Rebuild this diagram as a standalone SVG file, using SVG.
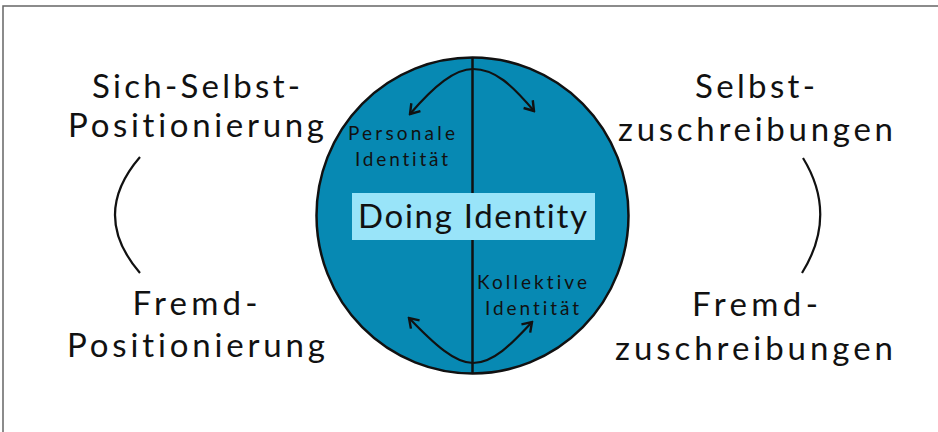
<svg xmlns="http://www.w3.org/2000/svg" width="938" height="432" viewBox="0 0 938 432">
  <style>
    text { font-variant-ligatures: none; font-feature-settings: "liga" 0, "clig" 0; }
    .big { font-family: Lato, "Open Sans", "DejaVu Sans", sans-serif; font-size: 33px; fill: #111; text-anchor: middle; }
    .small { font-family: Lato, "Open Sans", "DejaVu Sans", sans-serif; font-size: 19px; fill: #111; text-anchor: middle; }
    .line { fill: none; stroke: #111; stroke-width: 2.2; }
  </style>
  <defs>
    <marker id="arr" viewBox="-12 -8 14 16" markerWidth="14" markerHeight="16" refX="0" refY="0" orient="auto-start-reverse" markerUnits="userSpaceOnUse">
      <path d="M -9 -6 L 0 0 L -9 6" fill="none" stroke="#111" stroke-width="2.4" stroke-linejoin="miter"/>
    </marker>
  </defs>
  <rect x="0" y="0" width="938" height="432" fill="#fff"/>
  <rect x="3" y="6" width="1000" height="500" fill="none" stroke="#666" stroke-width="1.5"/>

  <g id="circle-node">
    <ellipse cx="472.5" cy="215.5" rx="156" ry="158" fill="#0789b3" stroke="#111" stroke-width="2.5"/>
    <line x1="472.5" y1="58" x2="472.5" y2="373" stroke="#111" stroke-width="2.5"/>
  </g>

  <g id="doing-identity">
    <rect x="352" y="193" width="243" height="47" fill="#99e4f9"/>
    <text class="big" x="472.5" y="228" textLength="229" lengthAdjust="spacing">Doing Identity</text>
  </g>

  <g id="personale-identitaet">
    <text class="small" x="401.5" y="140" textLength="107" lengthAdjust="spacing">Personale</text>
    <text class="small" x="401.5" y="166" textLength="93" lengthAdjust="spacing">Identität</text>
  </g>

  <g id="kollektive-identitaet">
    <text class="small" x="532" y="289" textLength="110" lengthAdjust="spacing">Kollektive</text>
    <text class="small" x="532" y="315" textLength="94" lengthAdjust="spacing">Identität</text>
  </g>

  <g id="sich-selbst-positionierung">
    <text class="big" x="196" y="98" textLength="208" lengthAdjust="spacing">Sich-Selbst-</text>
    <text class="big" x="196" y="137" textLength="256" lengthAdjust="spacing">Positionierung</text>
  </g>

  <g id="fremd-positionierung">
    <text class="big" x="195" y="315" textLength="125" lengthAdjust="spacing">Fremd-</text>
    <text class="big" x="196" y="357" textLength="258" lengthAdjust="spacing">Positionierung</text>
  </g>

  <g id="selbstzuschreibungen">
    <text class="big" x="755" y="98" textLength="120" lengthAdjust="spacing">Selbst-</text>
    <text class="big" x="755.5" y="141" textLength="275" lengthAdjust="spacing">zuschreibungen</text>
  </g>

  <g id="fremdzuschreibungen">
    <text class="big" x="755" y="316" textLength="126" lengthAdjust="spacing">Fremd-</text>
    <text class="big" x="754" y="360" textLength="278" lengthAdjust="spacing">zuschreibungen</text>
  </g>

  <g id="connectors">
    <path class="line" d="M 140 157 Q 90 215 140 273"/>
    <path class="line" d="M 803 158 Q 838 215 802 273"/>
    <path class="line" d="M 410 114 C 435 85, 455 69, 473 69 C 495 69, 512 85, 534 111" marker-start="url(#arr)" marker-end="url(#arr)"/>
    <path class="line" d="M 409 318 C 435 345, 455 363, 473 363 C 495 363, 515 340, 532 322" marker-start="url(#arr)" marker-end="url(#arr)"/>
  </g>
</svg>
